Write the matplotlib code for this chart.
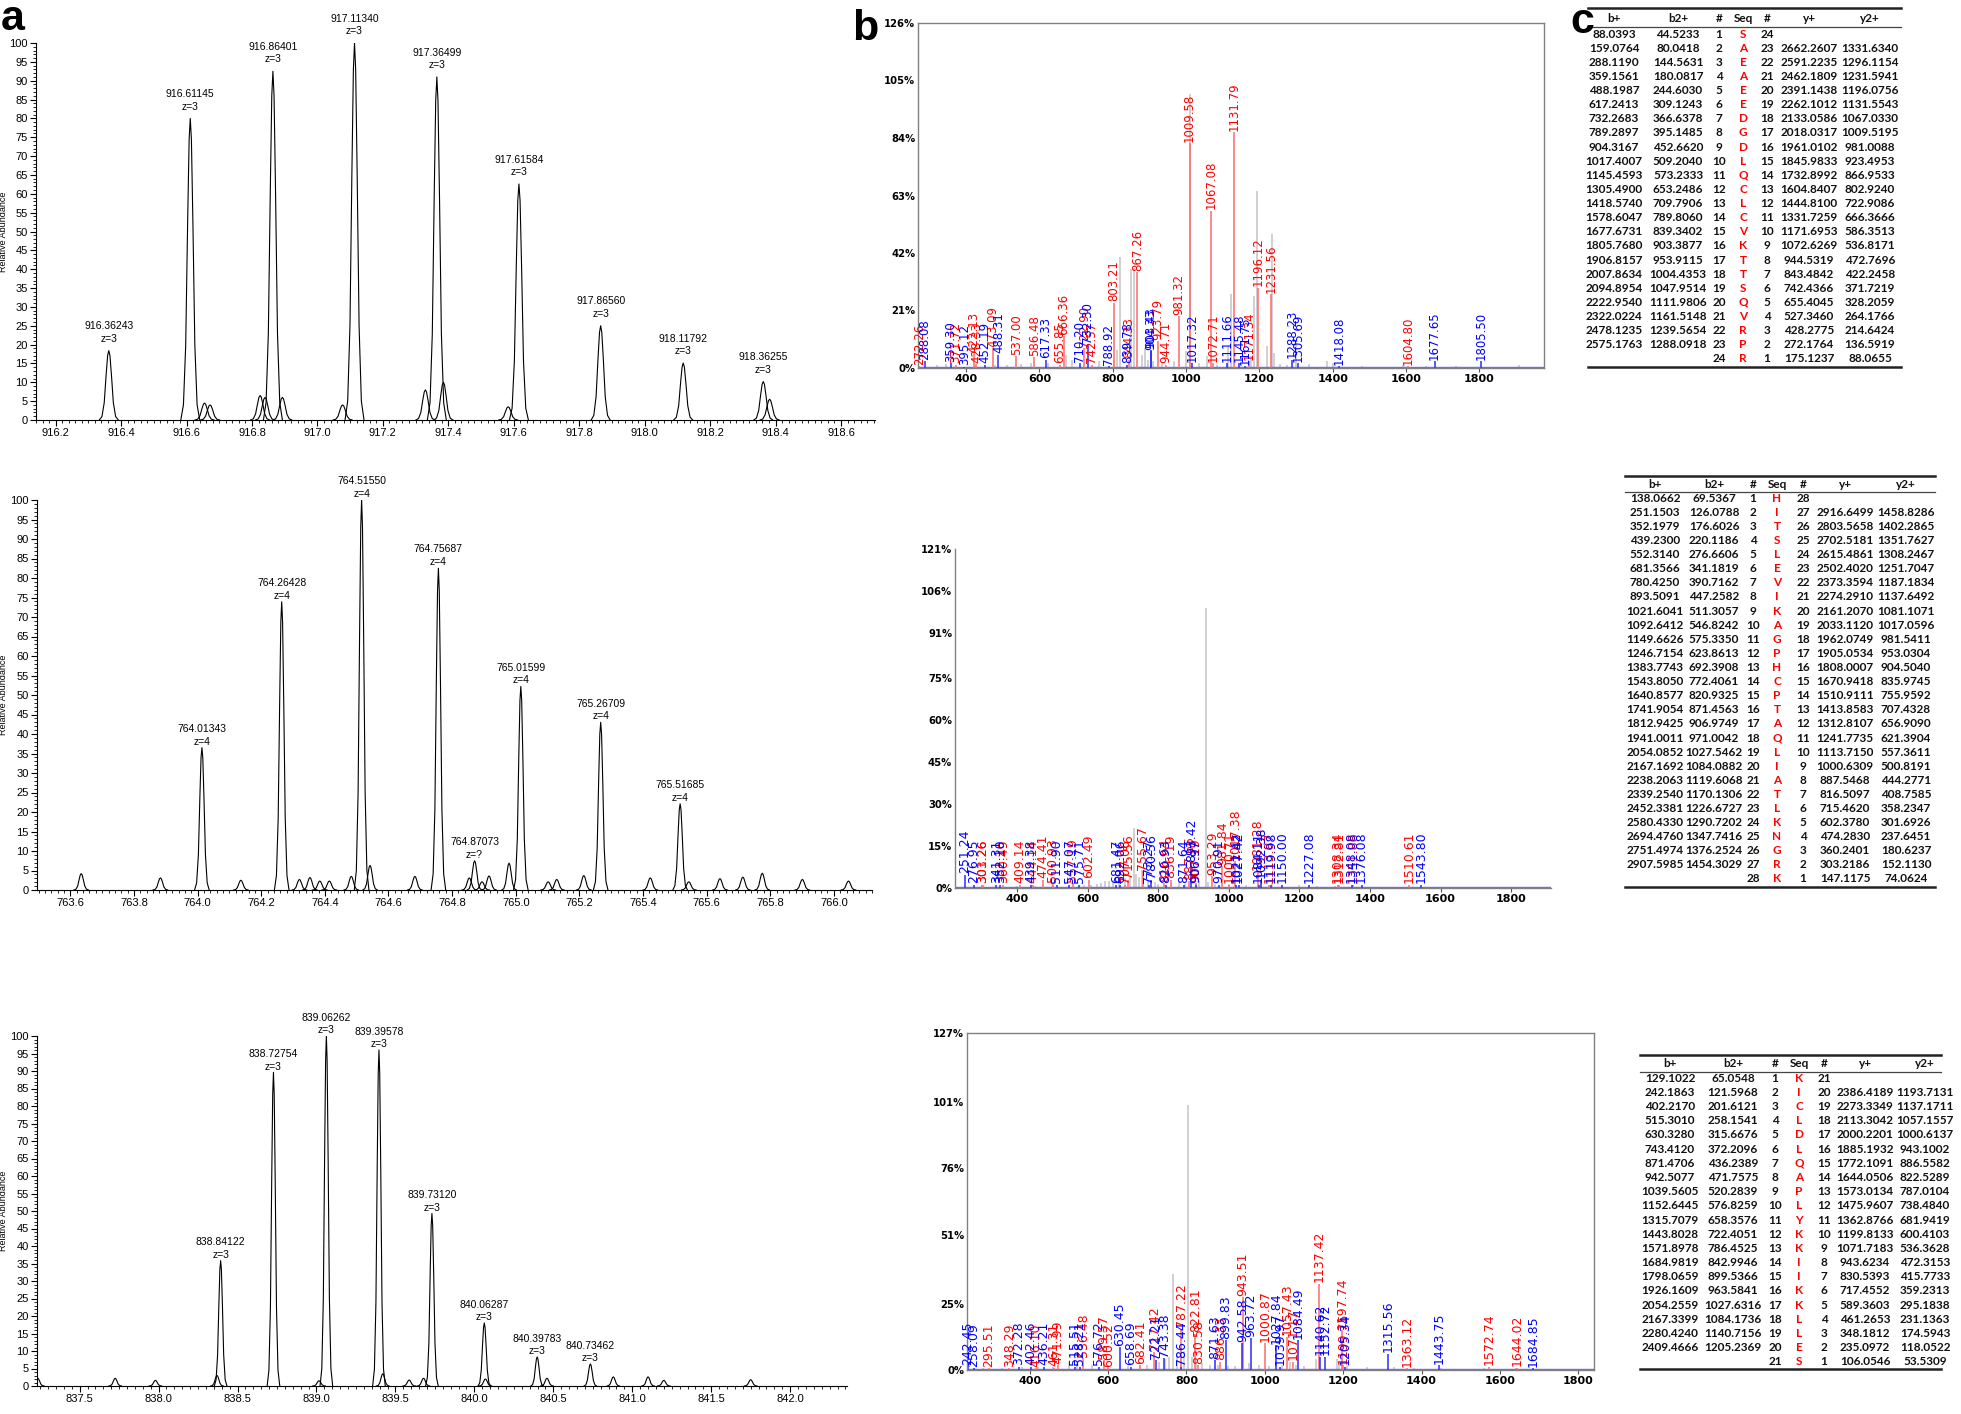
import numpy as np
import matplotlib
matplotlib.use('Agg')
import matplotlib.pyplot as plt
from matplotlib.ticker import MultipleLocator, FormatStrFormatter

plt.rcParams['font.family'] = ['Liberation Sans', 'DejaVu Sans']

W, H = 1961, 1414

# ---------------- panel a : precursor isotope envelopes ----------------
a1_mz = [916.36243, 916.61145, 916.86401, 917.11340, 917.36499, 917.61584, 917.86560, 918.11792, 918.36255]
a1_int = [18.4, 80.0, 92.5, 100.0, 91.0, 62.6, 25.0, 15.1, 10.2]
a1_z = ['z=3'] * 9
a1_small_mz = [916.655, 916.672, 916.825, 916.840, 916.893, 917.077, 917.330, 917.385, 917.583, 918.382]
a1_small_int = [4.5, 4.0, 6.5, 6.0, 6.0, 4.0, 8.0, 10.0, 3.5, 5.5]

a2_mz = [764.01343, 764.26428, 764.51550, 764.75687, 764.87073, 765.01599, 765.26709, 765.51685]
a2_int = [36.5, 73.9, 100.0, 82.5, 7.5, 52.2, 43.0, 22.1]
a2_z = ['z=4', 'z=4', 'z=4', 'z=4', 'z=?', 'z=4', 'z=4', 'z=4']
a2_small_mz = [763.634, 763.883, 764.136, 764.320, 764.353, 764.384, 764.414, 764.483, 764.542, 764.683,
               764.854, 764.894, 764.916, 764.979, 765.102, 765.129, 765.214, 765.423, 765.544, 765.642,
               765.714, 765.775, 765.901, 766.046]
a2_small_int = [4.2, 3.1, 2.5, 2.7, 3.2, 2.3, 2.3, 3.5, 6.3, 3.5, 3.1, 2.1, 3.6, 6.9, 2.1, 2.7, 3.7, 3.1,
                2.1, 2.9, 3.3, 4.3, 2.7, 2.3]

a3_mz = [838.393, 838.72754, 839.06262, 839.39578, 839.73120, 840.06287, 840.39783, 840.73462]
a3_labels = ['838.84122', '838.72754', '839.06262', '839.39578', '839.73120', '840.06287', '840.39783', '840.73462']
a3_int = [35.8, 89.6, 100.0, 96.0, 49.3, 18.0, 8.3, 6.3]
a3_z = ['z=3'] * 8
a3_small_mz = [837.235, 837.725, 837.980, 838.370, 839.016, 839.420, 839.587, 839.678, 840.070, 840.460,
               840.880, 841.100, 841.200, 841.750]
a3_small_int = [2.2, 2.2, 1.6, 3.0, 1.5, 3.5, 1.7, 2.2, 2.0, 2.2, 2.6, 2.6, 1.6, 1.8]

# ---------------- panel b : MS/MS spectra ----------------
b1_gray_mz = [322, 344, 478, 511, 550, 578, 623, 673, 690, 762, 803, 812, 821, 851, 859, 879, 887, 896, 910, 934,
              968, 999, 1010.3, 1035, 1057, 1085, 1113, 1123, 1177, 1186, 1194, 1220, 1234, 1240, 1257, 1274,
              1300, 1335, 1385, 1402, 1480, 1592, 1653, 1736, 1907]
b1_gray_int = [1.2, 1.5, 1.0, 1.2, 1.5, 1.8, 1.8, 4.9, 3.0, 2.4, 3.0, 6.7, 40.4, 36.0, 36.7, 4.9, 7.3, 3.0, 2.4,
               1.8, 2.7, 6.1, 100, 1.8, 4.3, 1.2, 8.0, 26.9, 4.3, 26.3, 64.5, 8.0, 48.9, 5.5, 1.5, 1.2, 9.8,
               1.5, 2.4, 1.8, 0.9, 1.2, 0.9, 0.6, 1.0]
b1_red_mz = [272.26, 371.72, 422.13, 428.33, 473.09, 537.00, 586.48, 655.85, 666.36, 722.90, 742.57, 803.21,
             844.33, 867.26, 923.79, 944.71, 981.32, 1009.58, 1067.08, 1072.71, 1131.79, 1171.34, 1196.12,
             1231.56, 1604.80]
b1_red_int = [0.6, 1.2, 5.0, 1.5, 7.3, 4.3, 3.9, 1.2, 11.6, 7.3, 1.2, 23.9, 3.0, 34.9, 9.8, 1.2, 19.0, 82.0,
              57.5, 1.8, 86.2, 2.4, 29.4, 26.9, 0.6]
b1_blue_mz = [288.08, 359.30, 395.12, 452.19, 488.31, 617.33, 710.20, 732.30, 788.92, 839.78, 903.43, 904.33,
              1017.32, 1111.66, 1145.48, 1161.75, 1288.23, 1305.69, 1418.08, 1677.65, 1805.50]
b1_blue_int = [2.5, 1.8, 0.5, 1.2, 4.9, 3.0, 1.8, 8.6, 0.6, 1.2, 6.7, 6.1, 1.8, 1.8, 1.8, 0.6, 3.0, 1.8, 0.6,
               2.4, 2.4]
b1_yticks = [0, 21, 42, 63, 84, 105, 126]

b2_gray_mz = [300, 400, 450, 500, 590, 610, 625, 638, 649, 660, 672, 690, 706, 720, 731, 738, 745, 753, 770, 790,
              800, 860, 875, 915, 934.5, 940, 960, 1000, 1050, 1123, 1200, 1250, 1300]
b2_gray_int = [0.6, 0.8, 0.8, 1.0, 1.0, 1.2, 1.5, 1.8, 2.4, 2.4, 3.0, 2.5, 3.5, 4.0, 21.4, 5.0, 4.0, 6.5, 2.5,
               2.0, 1.5, 2.0, 1.5, 2.5, 100, 2.0, 1.5, 1.5, 1.2, 1.8, 1.0, 0.8, 0.8]
b2_red_mz = [301.26, 303.26, 360.49, 409.14, 444.14, 474.41, 500.93, 557.19, 602.49, 707.06, 715.56, 755.67,
             816.64, 836.19, 887.66, 907.19, 953.29, 981.84, 1000.71, 1017.38, 1081.28, 1113.87, 1308.34,
             1312.81, 1351.88, 1510.61]
b2_red_int = [1.2, 1.2, 1.2, 1.2, 1.2, 3.0, 1.8, 1.8, 3.0, 1.2, 3.0, 6.0, 1.8, 3.0, 2.4, 1.8, 4.2, 7.7, 1.2,
              9.5, 6.0, 1.2, 1.2, 1.2, 1.2, 1.2]
b2_blue_mz = [251.24, 276.95, 341.31, 352.10, 439.38, 511.90, 547.07, 575.71, 681.47, 692.06, 773.27, 780.56,
              820.93, 871.64, 893.42, 906.97, 970.91, 1021.42, 1027.42, 1084.11, 1092.38, 1119.98, 1150.00,
              1227.08, 1348.08, 1376.08, 1543.80]
b2_blue_int = [4.7, 1.2, 1.2, 1.2, 1.2, 1.2, 1.2, 1.2, 1.2, 1.2, 1.2, 3.0, 1.2, 1.2, 8.9, 1.2, 1.2, 1.2, 1.2,
               1.2, 3.0, 1.2, 1.2, 1.2, 1.2, 1.2, 1.2]
b2_yticks = [0, 15, 30, 45, 60, 75, 91, 106, 121]

b3_gray_mz = [280, 330, 380, 420, 460, 500, 520, 560, 600, 650, 700, 730, 745, 755, 764.6, 775, 787, 795, 805,
              815, 825, 840, 860, 880, 905, 925, 960, 985, 1010, 1045, 1063, 1080, 1100, 1130, 1185, 1190, 1210,
              1260, 1330, 1380, 1450, 1560, 1640]
b3_gray_int = [0.8, 0.8, 1.0, 1.0, 1.2, 3.0, 2.5, 2.0, 1.5, 1.5, 2.0, 3.0, 4.0, 5.0, 36.2, 6.0, 8.0, 7.0, 100,
               5.0, 4.0, 2.5, 2.0, 2.0, 1.5, 1.5, 2.5, 2.0, 1.5, 2.0, 3.0, 2.0, 1.5, 4.0, 4.0, 3.0, 1.5, 1.0,
               1.0, 0.8, 0.6, 0.8, 0.6]
b3_red_mz = [295.51, 348.29, 416.10, 461.31, 471.99, 536.48, 589.57, 600.52, 682.41, 717.42, 787.22, 822.81,
             830.58, 886.33, 943.51, 1000.87, 1057.43, 1071.17, 1137.42, 1197.74, 1199.75, 1363.12, 1572.74,
             1644.02]
b3_red_int = [0.6, 0.6, 0.6, 0.9, 1.9, 4.4, 3.7, 0.6, 1.9, 6.9, 15.6, 13.7, 1.9, 3.1, 27.5, 10.0, 12.5, 3.1,
              32.5, 15.0, 1.9, 0.6, 1.2, 0.9]
b3_blue_mz = [242.45, 258.09, 372.28, 402.46, 436.21, 515.51, 528.21, 576.72, 630.45, 658.69, 722.21, 743.38,
              786.44, 871.63, 899.83, 942.58, 963.72, 1027.84, 1039.97, 1084.49, 1140.62, 1152.72, 1205.34,
              1315.56, 1443.75, 1684.85]
b3_blue_int = [1.2, 0.6, 1.2, 1.2, 1.2, 1.2, 1.2, 1.2, 8.7, 1.2, 3.7, 4.4, 1.2, 3.7, 11.2, 10.0, 11.9, 9.4, 1.2,
               11.2, 5.0, 5.0, 1.2, 6.2, 1.9, 0.6]
b3_yticks = [0, 25, 51, 76, 101, 127]

# ---------------- panel c : fragment ion tables ----------------
t1_seq = 'SAEAEEDGDLQCLCVKTTSQVRPR'
t1_b = [88.0393, 159.0764, 288.1190, 359.1561, 488.1987, 617.2413, 732.2683, 789.2897, 904.3167, 1017.4007,
        1145.4593, 1305.4900, 1418.5740, 1578.6047, 1677.6731, 1805.7680, 1906.8157, 2007.8634, 2094.8954,
        2222.9540, 2322.0224, 2478.1235, 2575.1763]
t1_b2 = [44.5233, 80.0418, 144.5631, 180.0817, 244.6030, 309.1243, 366.6378, 395.1485, 452.6620, 509.2040,
         573.2333, 653.2486, 709.7906, 789.8060, 839.3402, 903.3877, 953.9115, 1004.4353, 1047.9514, 1111.9806,
         1161.5148, 1239.5654, 1288.0918]
t1_y = [2662.2607, 2591.2235, 2462.1809, 2391.1438, 2262.1012, 2133.0586, 2018.0317, 1961.0102, 1845.9833,
        1732.8992, 1604.8407, 1444.8100, 1331.7259, 1171.6953, 1072.6269, 944.5319, 843.4842, 742.4366,
        655.4045, 527.3460, 428.2775, 272.1764, 175.1237]
t1_y2 = [1331.6340, 1296.1154, 1231.5941, 1196.0756, 1131.5543, 1067.0330, 1009.5195, 981.0088, 923.4953,
         866.9533, 802.9240, 722.9086, 666.3666, 586.3513, 536.8171, 472.7696, 422.2458, 371.7219, 328.2059,
         264.1766, 214.6424, 136.5919, 88.0655]

t2_seq = 'HITSLEVIKAGPHCPTAQLIATLKNGRK'
t2_b = [138.0662, 251.1503, 352.1979, 439.2300, 552.3140, 681.3566, 780.4250, 893.5091, 1021.6041, 1092.6412,
        1149.6626, 1246.7154, 1383.7743, 1543.8050, 1640.8577, 1741.9054, 1812.9425, 1941.0011, 2054.0852,
        2167.1692, 2238.2063, 2339.2540, 2452.3381, 2580.4330, 2694.4760, 2751.4974, 2907.5985]
t2_b2 = [69.5367, 126.0788, 176.6026, 220.1186, 276.6606, 341.1819, 390.7162, 447.2582, 511.3057, 546.8242,
         575.3350, 623.8613, 692.3908, 772.4061, 820.9325, 871.4563, 906.9749, 971.0042, 1027.5462, 1084.0882,
         1119.6068, 1170.1306, 1226.6727, 1290.7202, 1347.7416, 1376.2524, 1454.3029]
t2_y = [2916.6499, 2803.5658, 2702.5181, 2615.4861, 2502.4020, 2373.3594, 2274.2910, 2161.2070, 2033.1120,
        1962.0749, 1905.0534, 1808.0007, 1670.9418, 1510.9111, 1413.8583, 1312.8107, 1241.7735, 1113.7150,
        1000.6309, 887.5468, 816.5097, 715.4620, 602.3780, 474.2830, 360.2401, 303.2186, 147.1175]
t2_y2 = [1458.8286, 1402.2865, 1351.7627, 1308.2467, 1251.7047, 1187.1834, 1137.6492, 1081.1071, 1017.0596,
         981.5411, 953.0304, 904.5040, 835.9745, 755.9592, 707.4328, 656.9090, 621.3904, 557.3611, 500.8191,
         444.2771, 408.7585, 358.2347, 301.6926, 237.6451, 180.6237, 152.1130, 74.0624]

t3_seq = 'KICLDLQAPLYKKIIKKLLES'
t3_b = [129.1022, 242.1863, 402.2170, 515.3010, 630.3280, 743.4120, 871.4706, 942.5077, 1039.5605, 1152.6445,
        1315.7079, 1443.8028, 1571.8978, 1684.9819, 1798.0659, 1926.1609, 2054.2559, 2167.3399, 2280.4240,
        2409.4666]
t3_b2 = [65.0548, 121.5968, 201.6121, 258.1541, 315.6676, 372.2096, 436.2389, 471.7575, 520.2839, 576.8259,
         658.3576, 722.4051, 786.4525, 842.9946, 899.5366, 963.5841, 1027.6316, 1084.1736, 1140.7156, 1205.2369]
t3_y = [2386.4189, 2273.3349, 2113.3042, 2000.2201, 1885.1932, 1772.1091, 1644.0506, 1573.0134, 1475.9607,
        1362.8766, 1199.8133, 1071.7183, 943.6234, 830.5393, 717.4552, 589.3603, 461.2653, 348.1812, 235.0972,
        106.0546]
t3_y2 = [1193.7131, 1137.1711, 1057.1557, 1000.6137, 943.1002, 886.5582, 822.5289, 787.0104, 738.4840,
         681.9419, 600.4103, 536.3628, 472.3153, 415.7733, 359.2313, 295.1838, 231.1363, 174.5943, 118.0522,
         53.5309]

# ----------------------------------------------------------------
fig = plt.figure(figsize=(W / 100, H / 100), dpi=100)
bg = fig.add_axes([0, 0, 1, 1])
bg.set_xlim(0, W)
bg.set_ylim(H, 0)
bg.axis('off')


def px_axes(l, t, r, b):
    return fig.add_axes([l / W, 1 - b / H, (r - l) / W, (b - t) / H])


# outline of one profile peak (fraction of half width / of height)
PEAK_DX = np.array([-1.0, -0.72, -0.48, -0.28, -0.12, 0.0, 0.12, 0.28, 0.48, 0.72, 1.0])
PEAK_DY = np.array([0.0, 0.05, 0.25, 0.65, 0.93, 1.0, 0.93, 0.65, 0.25, 0.05, 0.0])


def profile_panel(ax, mz, inten, small_mz, small_int, half_w, xlim, major, minor, labels, zs, d1, d2, ylab_x):
    for m, h in zip(list(mz) + list(small_mz), list(inten) + list(small_int)):
        ax.plot(m + half_w * PEAK_DX, h * PEAK_DY, color='black', lw=0.8)
    for m, h, t, z in zip(mz, inten, labels, zs):
        ax.annotate(t, (m, h), xytext=(0, d1), textcoords='offset points', ha='center', va='center',
                    fontsize=7.5, annotation_clip=False)
        ax.annotate(z, (m, h), xytext=(0, d2), textcoords='offset points', ha='center', va='center',
                    fontsize=7.5, annotation_clip=False)
    ax.set_xlim(*xlim)
    ax.set_ylim(0, 100)
    ax.spines['top'].set_visible(False)
    ax.spines['right'].set_visible(False)
    ax.spines['left'].set_linewidth(0.8)
    ax.spines['bottom'].set_linewidth(0.8)
    ax.xaxis.set_major_locator(MultipleLocator(major))
    ax.xaxis.set_minor_locator(MultipleLocator(minor))
    ax.yaxis.set_major_locator(MultipleLocator(5))
    ax.yaxis.set_minor_locator(MultipleLocator(1))
    ax.xaxis.set_major_formatter(FormatStrFormatter('%.1f'))
    ax.yaxis.set_major_formatter(FormatStrFormatter('%d'))
    ax.tick_params(which='major', length=4, width=0.8, labelsize=8, pad=2)
    ax.tick_params(which='minor', length=2, width=0.6)
    ax.set_ylabel('Relative Abundance', fontsize=6.5)
    ax.yaxis.set_label_coords(ylab_x, 0.5)


ax = px_axes(36, 43, 875, 420)
profile_panel(ax, a1_mz, a1_int, a1_small_mz, a1_small_int, 0.029, (916.14, 918.704), 0.2, 0.02,
              [f'{m:.5f}' for m in a1_mz], a1_z, 17.5, 8.5, -28 / 839)

ax = px_axes(37, 500, 872, 890)
profile_panel(ax, a2_mz, a2_int, a2_small_mz, a2_small_int, 0.023, (763.495, 766.12), 0.2, 0.02,
              [f'{m:.5f}' for m in a2_mz], a2_z, 13.5, 4.3, -29 / 835)

ax = px_axes(37, 1036, 847, 1386)
profile_panel(ax, a3_mz, a3_int, a3_small_mz, a3_small_int, 0.04, (837.23, 842.36), 0.5, 0.05,
              a3_labels, a3_z, 13.2, 4.1, -29 / 810)


def ms2_panel(ax, xlim, yticks, gray_mz, gray_int, red_mz, red_int, blue_mz, blue_int, lab_size, box):
    ax.vlines(gray_mz, 0, gray_int, color='#c4c4c4', lw=1.1)
    ax.axhline(0.35, color='#6a6aff', lw=1.0)
    ax.vlines(red_mz, 0, red_int, color='#ff6a6a', lw=1.1)
    ax.vlines(blue_mz, 0, blue_int, color='#2a2aff', lw=1.1)
    for m, h in zip(red_mz, red_int):
        ax.annotate(f'{m:.2f}', (m, h), xytext=(0, 1), textcoords='offset points', rotation=90,
                    ha='center', va='bottom', fontsize=lab_size, color='#ff0000', family='DejaVu Sans',
                    annotation_clip=False)
    for m, h in zip(blue_mz, blue_int):
        ax.annotate(f'{m:.2f}', (m, h), xytext=(0, 1), textcoords='offset points', rotation=90,
                    ha='center', va='bottom', fontsize=lab_size, color='#0000ff', family='DejaVu Sans',
                    annotation_clip=False)
    ax.set_xlim(*xlim)
    ax.set_ylim(0, yticks[-1])
    ax.set_yticks(yticks)
    ax.set_yticklabels([f'{v}%' for v in yticks], fontweight='bold', family='DejaVu Sans', fontsize=7.2)
    ax.set_xticks(range(400, 1801, 200))
    ax.set_xticklabels([str(v) for v in range(400, 1801, 200)], fontweight='bold', family='DejaVu Sans',
                       fontsize=8)
    ax.tick_params(axis='y', length=0, pad=2)
    ax.tick_params(axis='x', length=3, width=0.8, color='#555555', pad=1)
    for side in ['top', 'right', 'left', 'bottom']:
        ax.spines[side].set_color('#808080')
        ax.spines[side].set_linewidth(1.0)
    if not box:
        ax.spines['top'].set_visible(False)
        ax.spines['right'].set_visible(False)


ax = px_axes(918, 23, 1544, 368)
ms2_panel(ax, (269, 1976), b1_yticks, b1_gray_mz, b1_gray_int, b1_red_mz, b1_red_int, b1_blue_mz, b1_blue_int,
          8.5, True)
ax = px_axes(955, 549, 1551, 888)
ms2_panel(ax, (224, 1913), b2_yticks, b2_gray_mz, b2_gray_int, b2_red_mz, b2_red_int, b2_blue_mz, b2_blue_int,
          9, False)
ax = px_axes(967, 1033, 1594, 1370)
ms2_panel(ax, (240, 1840), b3_yticks, b3_gray_mz, b3_gray_int, b3_red_mz, b3_red_int, b3_blue_mz, b3_blue_int,
          9, True)


def draw_table(cols, left, right, top, header_y, rule_y, row0, row_h, bottom, seq, bp, b2p, yp, y2p):
    kw = dict(ha='center', va='center', fontsize=8.5, fontweight='bold', family=['Lato', 'DejaVu Sans'],
              color='#111111')
    bg.plot([left, right], [top, top], color='#222222', lw=1.8)
    bg.plot([left, right], [rule_y, rule_y], color='#444444', lw=0.9)
    bg.plot([left, right], [bottom, bottom], color='#222222', lw=1.8)
    for x, t in zip(cols, ['b+', 'b2+', '#', 'Seq', '#', 'y+', 'y2+']):
        bg.text(x, header_y, t, **kw)
    n = len(seq)
    for i in range(n):
        y = row0 + i * row_h
        cells = [f'{bp[i]:.4f}' if i < n - 1 else '',
                 f'{b2p[i]:.4f}' if i < n - 1 else '',
                 str(i + 1), seq[i], str(n - i),
                 f'{yp[i - 1]:.4f}' if i > 0 else '',
                 f'{y2p[i - 1]:.4f}' if i > 0 else '']
        for j, (x, s) in enumerate(zip(cols, cells)):
            if j == 3:
                bg.text(x, y, s, **dict(kw, color='#ff0000'))
            else:
                bg.text(x, y, s, **kw)


draw_table([1614, 1678, 1719, 1743, 1767, 1809, 1870], 1588, 1901, 8, 18.5, 27, 34, 14.13, 367,
           t1_seq, t1_b, t1_b2, t1_y, t1_y2)
draw_table([1655, 1714, 1753, 1777, 1803, 1845, 1906], 1625, 1935, 476, 484.5, 492, 498.3, 14.1, 887,
           t2_seq, t2_b, t2_b2, t2_y, t2_y2)
draw_table([1670, 1733, 1775, 1799, 1824, 1865, 1925], 1640, 1941, 1055, 1063.5, 1072, 1078.3, 14.17, 1368.5,
           t3_seq, t3_b, t3_b2, t3_y, t3_y2)

# panel letters
bg.text(13, 30, 'a', ha='center', va='baseline', fontsize=31, fontweight='bold')
bg.text(865, 40, 'b', ha='center', va='baseline', fontsize=31, fontweight='bold')
bg.text(1582, 33, 'c', ha='center', va='baseline', fontsize=31, fontweight='bold')

fig.savefig('out.png', dpi=100)
